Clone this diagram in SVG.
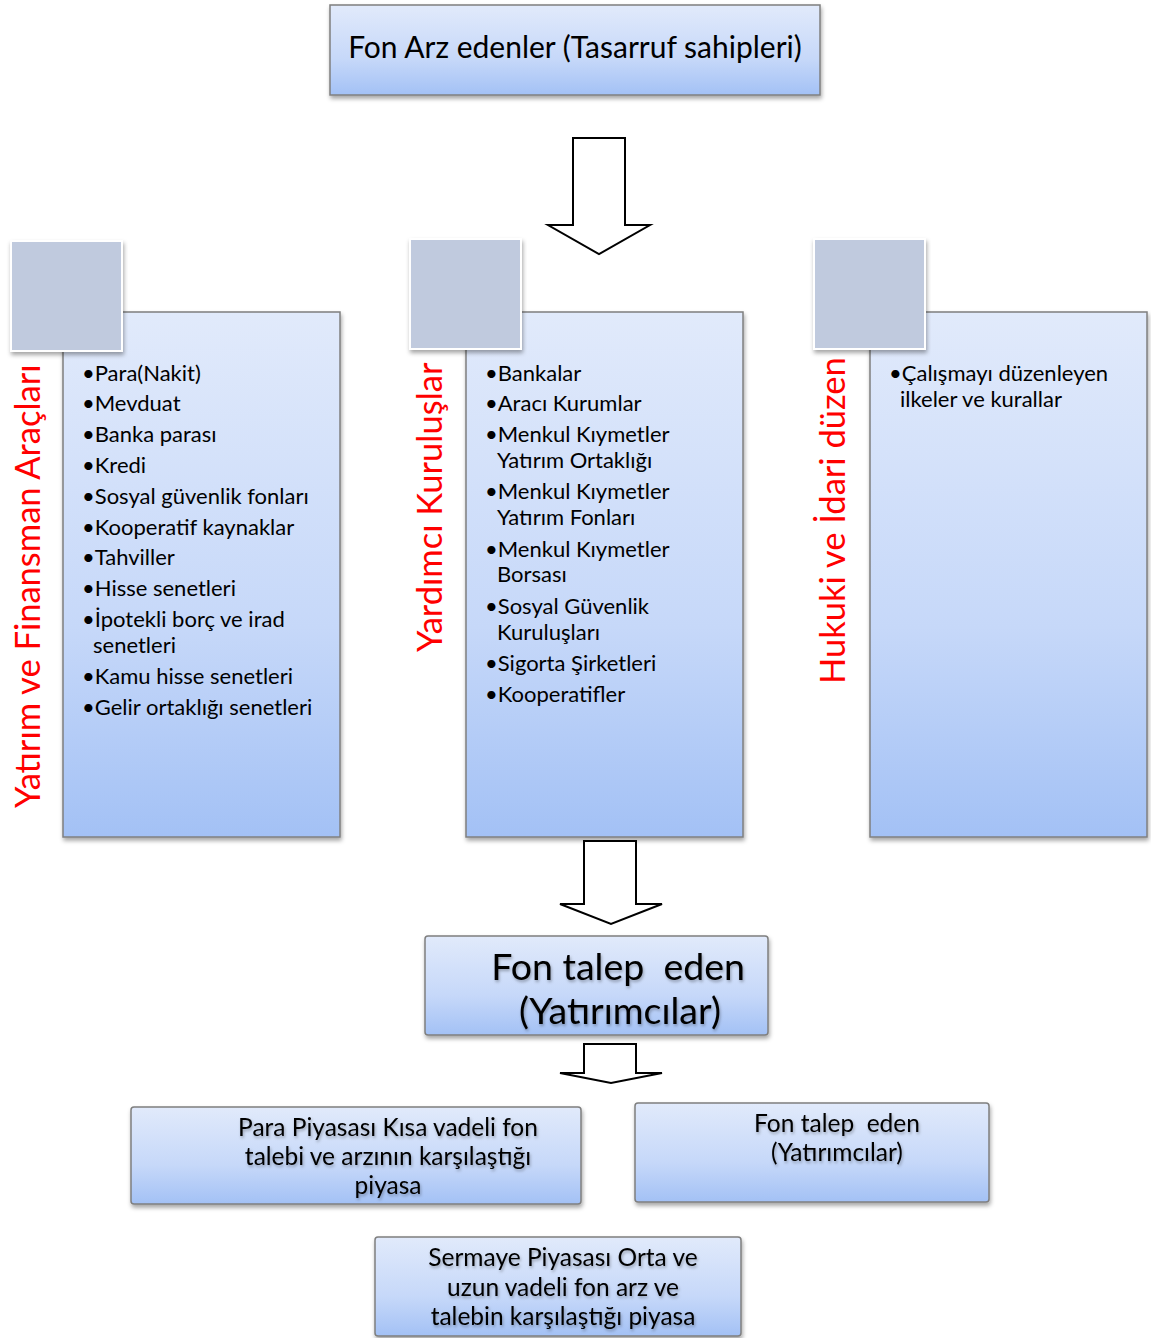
<svg xmlns="http://www.w3.org/2000/svg" width="1151" height="1338" viewBox="0 0 1151 1338">
<defs>
<linearGradient id="g" x1="0" y1="0" x2="0" y2="1">
<stop offset="0" stop-color="#e1eafb"/>
<stop offset="0.6" stop-color="#c6d8f9"/>
<stop offset="1" stop-color="#a3c1f5"/>
</linearGradient>
<filter id="sh" x="-5%" y="-5%" width="110%" height="115%">
<feDropShadow dx="1" dy="3" stdDeviation="2" flood-color="#000" flood-opacity="0.35"/>
</filter>
<filter id="ts" x="-5%" y="-20%" width="110%" height="140%">
<feDropShadow dx="1" dy="2" stdDeviation="1.5" flood-color="#000" flood-opacity="0.3"/>
</filter>
</defs>
<style>
.box{fill:url(#g);stroke:#7f7f7f;stroke-width:1.5;filter:url(#sh)}
.sq{fill:#c0cade;stroke:#fff;stroke-width:2;filter:url(#sh)}
.t{font-family:Lato,"Open Sans","Liberation Sans",sans-serif;fill:#000}
.li{font-size:22px}
.red{font-family:Lato,"Open Sans","Liberation Sans",sans-serif;fill:#ff0000;font-size:34.5px}
.arr{fill:#fff;stroke:#000;stroke-width:2;stroke-linejoin:miter}
.sh{filter:url(#ts)}
</style>

<g id="node-fon-arz">
<rect class="box" x="330" y="5" width="490" height="90"/>
<text class="t" x="575" y="58" font-size="30" text-anchor="middle">Fon Arz edenler (Tasarruf sahipleri)</text>
</g>

<g id="node-araclar">
<rect class="box" x="63" y="312" width="277" height="525"/>
<rect class="sq" x="11" y="241" width="111" height="110"/>
<text class="red" transform="translate(40,808) rotate(-90)">Yatırım ve Finansman Araçları</text>
<g class="t li">
<text x="82" y="381">•Para(Nakit)</text>
<text x="82" y="411">•Mevduat</text>
<text x="82" y="442">•Banka parası</text>
<text x="82" y="473">•Kredi</text>
<text x="82" y="504">•Sosyal güvenlik fonları</text>
<text x="82" y="535">•Kooperatif kaynaklar</text>
<text x="82" y="565">•Tahviller</text>
<text x="82" y="596">•Hisse senetleri</text>
<text x="82" y="627">•İpotekli borç ve irad</text>
<text x="93" y="653">senetleri</text>
<text x="82" y="684">•Kamu hisse senetleri</text>
<text x="82" y="715">•Gelir ortaklığı senetleri</text>
</g>
</g>

<g id="node-kuruluslar">
<rect class="box" x="466" y="312" width="277" height="525"/>
<rect class="sq" x="410" y="239" width="111" height="110"/>
<text class="red" transform="translate(442,652) rotate(-90)">Yardımcı Kuruluşlar</text>
<g class="t li">
<text x="485" y="381">•Bankalar</text>
<text x="485" y="411">•Aracı Kurumlar</text>
<text x="485" y="442">•Menkul Kıymetler</text>
<text x="497" y="468">Yatırım Ortaklığı</text>
<text x="485" y="499">•Menkul Kıymetler</text>
<text x="497" y="525">Yatırım Fonları</text>
<text x="485" y="557">•Menkul Kıymetler</text>
<text x="497" y="582">Borsası</text>
<text x="485" y="614">•Sosyal Güvenlik</text>
<text x="497" y="640">Kuruluşları</text>
<text x="485" y="671">•Sigorta Şirketleri</text>
<text x="485" y="702">•Kooperatifler</text>
</g>
</g>

<g id="node-hukuki">
<rect class="box" x="870" y="312" width="277" height="525"/>
<rect class="sq" x="814" y="239" width="111" height="110"/>
<text class="red" transform="translate(845,684) rotate(-90)" font-size="34">Hukuki ve İdari düzen</text>
<g class="t li">
<text x="889" y="381">•Çalışmayı düzenleyen</text>
<text x="900" y="407">ilkeler ve kurallar</text>
</g>
</g>

<g id="node-fon-talep">
<rect class="box" x="425" y="936" width="343" height="99" rx="3"/>
<g class="t sh" font-size="37.5">
<text x="745" y="980" text-anchor="end" xml:space="preserve">Fon talep  eden</text>
<text x="620" y="1024" text-anchor="middle">(Yatırımcılar)</text>
</g>
</g>

<g id="node-para-piyasasi">
<rect class="box" x="131" y="1107" width="450" height="97" rx="3"/>
<g class="t sh" font-size="24.5" text-anchor="middle">
<text x="388" y="1136">Para Piyasası Kısa vadeli fon</text>
<text x="388" y="1165">talebi ve arzının karşılaştığı</text>
<text x="388" y="1194">piyasa</text>
</g>
</g>

<g id="node-fon-talep-2">
<rect class="box" x="635" y="1103" width="354" height="99" rx="3"/>
<g class="t sh" font-size="24.5" text-anchor="middle">
<text x="837" y="1132" xml:space="preserve">Fon talep  eden</text>
<text x="837" y="1161">(Yatırımcılar)</text>
</g>
</g>

<g id="node-sermaye">
<rect class="box" x="375" y="1237" width="366" height="99" rx="3"/>
<g class="t sh" font-size="24.5" text-anchor="middle">
<text x="563" y="1266">Sermaye Piyasası Orta ve</text>
<text x="563" y="1296">uzun vadeli fon arz ve</text>
<text x="563" y="1325">talebin karşılaştığı piyasa</text>
</g>
</g>

<g id="connectors">
<path class="arr" d="M573,138 H625 V225 H650 L599,254 L548,225 H573 Z"/>
<path class="arr" d="M584,841 H636 V904 H662 L611,924 L560,904 H584 Z"/>
<path class="arr" d="M584,1044 H636 V1073 H662 L611,1083 L560,1073 H584 Z"/>
</g>
</svg>
